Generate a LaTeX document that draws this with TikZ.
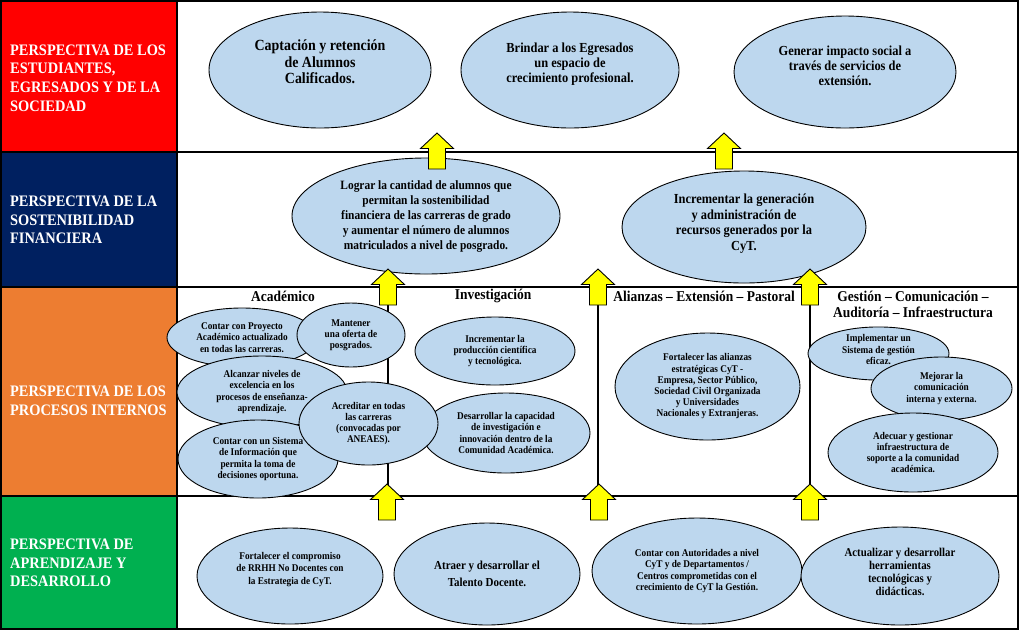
\documentclass[tikz,border=0pt]{standalone}
\usepackage{fontspec}
\setmainfont{Liberation Serif}[FakeStretch=0.9]
\usetikzlibrary{shapes.geometric}
\definecolor{ellblue}{HTML}{BDD7EE}
\definecolor{pred}{HTML}{FF0000}
\definecolor{pnavy}{HTML}{002060}
\definecolor{porange}{HTML}{ED7D31}
\definecolor{pgreen}{HTML}{00B050}
\definecolor{ayellow}{HTML}{FFFF00}
\tikzset{
  ell/.style={ellipse, draw=black, fill=ellblue, line width=0.9pt, inner sep=0pt, align=center},
  esz/.style 2 args={minimum width=#1pt, minimum height=#2pt},
  txtsz/.style 2 args={font=\bfseries\fontsize{#1}{#2}\selectfont},
  liftby/.style={text depth=#1pt},
  lbl/.style={anchor=west, align=left, text=white, inner sep=0pt, txtsz={16}{18.7}},
  hdr/.style={align=center, inner sep=0pt, txtsz={15}{16}},
  gridline/.style={line width=1.7pt, draw=black},
  yarrow/.pic={\draw[fill=ayellow, draw=black, line width=0.9pt, line join=miter]
     (0,0) -- (16.5,15.5) -- (8.5,15.5) -- (8.5,36) -- (-8.5,36) -- (-8.5,15.5) -- (-16.5,15.5) -- cycle;}
}
\begin{document}
\begin{tikzpicture}[x=1pt,y=-1pt]
\useasboundingbox (0,0) rectangle (1024,633);
\fill[white] (0,0) rectangle (1024,633);
% perspective cells
\fill[pred] (1,1) rectangle (177,152);
\fill[pnavy] (1,152) rectangle (177,287);
\fill[porange] (1,287) rectangle (177,496);
\fill[pgreen] (1,496) rectangle (177,629);
% grid
\draw[gridline] (1,1) rectangle (1018,629);
\draw[gridline] (177,1) -- (177,629);
\draw[gridline] (1,152) -- (1018,152);
\draw[gridline] (1,287) -- (1018,287);
\draw[gridline] (1,496) -- (1018,496);
\draw[gridline] (388,287) -- (388,496);
\draw[gridline] (598,287) -- (598,496);
\draw[gridline] (810,287) -- (810,496);
% labels
\node[lbl] (l1) at (10,78) {PERSPECTIVA DE LOS\\ESTUDIANTES,\\EGRESADOS Y DE LA\\SOCIEDAD};
\node[lbl] (l2) at (10,220) {PERSPECTIVA DE LA\\SOSTENIBILIDAD\\FINANCIERA};
\node[lbl] (l3) at (10,401) {PERSPECTIVA DE LOS\\PROCESOS INTERNOS};
\node[lbl] (l4) at (10,563) {PERSPECTIVA DE\\APRENDIZAJE Y\\DESARROLLO};
% headers
\node[hdr] (h1) at (283,296) {Académico};
\node[hdr] (h2) at (493,296) {Investigación};
\node[hdr] (h3) at (704,296) {Alianzas – Extensión – Pastoral};
\node[hdr] (h4) at (913,304) {Gestión – Comunicación –\\Auditoría – Infraestructura};
% top row
\node[ell, esz={222}{116}, txtsz={15.5}{16.5}, liftby=16] (e1) at (320,70) {Captación y retención\\de Alumnos\\Calificados.};
\node[ell, esz={218}{116}, txtsz={13.8}{15}, liftby=15] (e2) at (570,70) {Brindar a los Egresados\\un espacio de\\crecimiento profesional.};
\node[ell, esz={222}{112}, txtsz={13.8}{15}, liftby=13] (e3) at (845,72) {Generar impacto social a\\través de servicios de\\extensión.};
% financial row
\node[ell, esz={268}{116}, txtsz={12.7}{15}] (e4) at (426,216) {Lograr la cantidad de alumnos que\\permitan la sostenibilidad\\financiera de las carreras de grado\\y aumentar el número de alumnos\\matriculados a nivel de posgrado.};
\node[ell, esz={244}{112}, txtsz={13.8}{15.5}, liftby=10] (e5) at (744,227) {Incrementar la generación\\y administración de\\recursos generados por la\\CyT.};
% internal processes
\node[ell, esz={150}{59}, txtsz={10.3}{11.2}] (i1) at (242,337.5) {Contar con Proyecto\\Académico actualizado\\en todas las carreras.};
\node[ell, esz={108}{64}, txtsz={10.3}{11.2}] (i2) at (351,335) {Mantener\\una oferta de\\posgrados.};
\node[ell, esz={170}{72}, txtsz={10.3}{11.2}] (i3) at (262,392) {Alcanzar niveles de\\excelencia en los\\procesos de enseñanza-\\aprendizaje.};
\node[ell, esz={160}{78}, txtsz={10.3}{11.2}] (i4) at (258,459) {Contar con un Sistema\\de Información que\\permita la toma de\\decisiones oportuna.};
\node[ell, esz={168}{80}, txtsz={10.3}{11.2}] (i6) at (506,433) {Desarrollar la capacidad\\de investigación e\\innovación dentro de la\\Comunidad Académica.};
\node[ell, esz={139}{83}, txtsz={10.3}{11.2}] (i5) at (368.5,423.5) {Acreditar en todas\\las carreras\\(convocadas por\\ANEAES).};
\node[ell, esz={160}{68}, txtsz={10.3}{11.2}] (i7) at (495,351) {Incrementar la\\producción científica\\y tecnológica.};
\node[ell, esz={185}{107}, txtsz={10.3}{11.2}] (i8) at (707.5,386.5) {Fortalecer las alianzas\\estratégicas CyT -\\Empresa, Sector Público,\\Sociedad Civil Organizada\\y Universidades\\Nacionales y Extranjeras.};
\node[ell, esz={141}{51}, txtsz={10.3}{11.2}, liftby=8] (i9) at (878.5,353.5) {Implementar un\\Sistema de gestión\\eficaz.};
\node[ell, esz={141}{63}, txtsz={10.3}{11.2}] (i10) at (941.5,388.5) {Mejorar la\\comunicación\\interna y externa.};
\node[ell, esz={170}{79}, txtsz={10.3}{11.2}] (i11) at (913,452.5) {Adecuar y gestionar\\infraestructura de\\soporte a la comunidad\\académica.};
% learning row
\node[ell, esz={186}{96}, txtsz={10.3}{12.5}, liftby=16] (b1) at (290,576) {Fortalecer el compromiso\\de RRHH No Docentes con\\la Estrategia de CyT.};
\node[ell, esz={186}{102}, txtsz={12.2}{17}] (b2) at (487,574) {Atraer y desarrollar el\\Talento Docente.};
\node[ell, esz={210}{106}, txtsz={10.3}{11.2}] (b3) at (697,571) {Contar con Autoridades a nivel\\CyT y de Departamentos /\\Centros comprometidas con el\\crecimiento de CyT la Gestión.};
\node[ell, esz={198}{98}, txtsz={12}{12.8}, liftby=8] (b4) at (900,576) {Actualizar y desarrollar\\herramientas\\tecnológicas y\\didácticas.};
% arrows
\pic (a1) at (437,133) {yarrow};
\pic (a2) at (724,133) {yarrow};
\pic (a3) at (388,269) {yarrow};
\pic (a4) at (598,269) {yarrow};
\pic (a5) at (810,269) {yarrow};
\pic (a6) at (387,484) {yarrow};
\pic (a7) at (599,484) {yarrow};
\pic (a8) at (810,484) {yarrow};
\end{tikzpicture}
\end{document}
